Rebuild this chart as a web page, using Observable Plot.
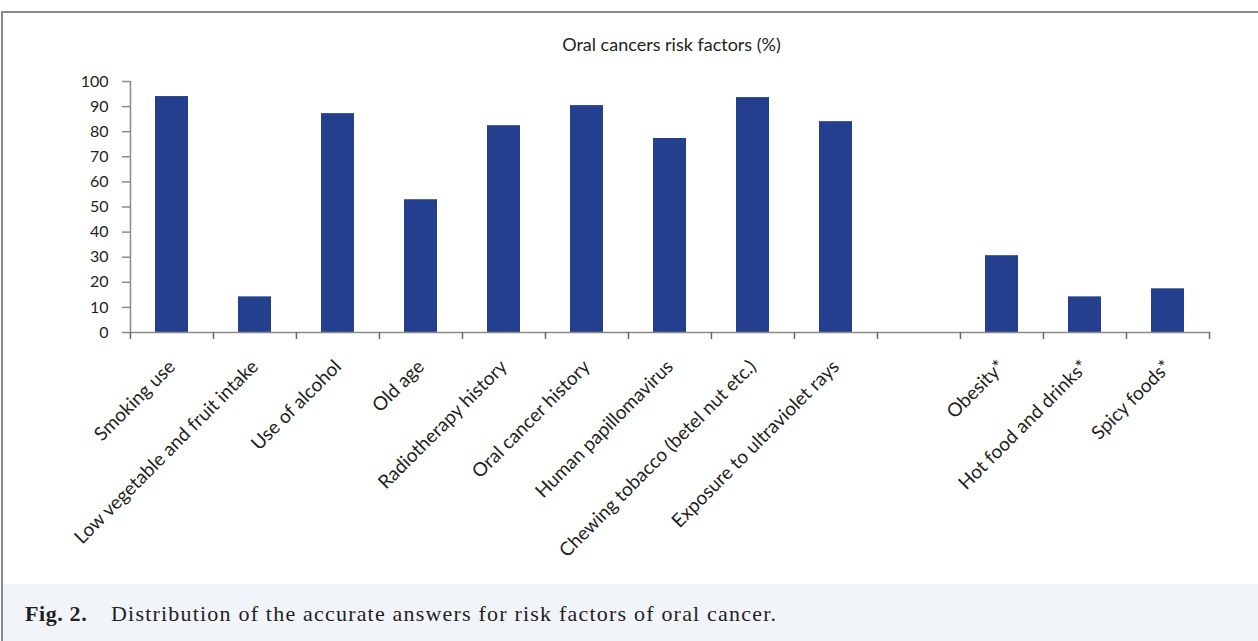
<!DOCTYPE html>
<html>
<head>
<meta charset="utf-8">
<script src="https://cdn.jsdelivr.net/npm/d3@7"></script>
<script src="https://cdn.jsdelivr.net/npm/@observablehq/plot@0.6"></script>
<style>
  html, body { margin: 0; padding: 0; background: #fff; }
  #frame { position: absolute; left: 1px; top: 11px; width: 1257px; height: 630px;
           border-top: 2px solid #8a8a8a; border-left: 2px solid #8a8a8a; box-sizing: border-box; }
  #title { position: absolute; left: 0; width: 1337px; top: 20px; text-align: center;
           font-family: Lato, sans-serif; font-size: 18px; color: #231f20; }
  #chart { position: absolute; left: -3px; top: 47px; }
  #caption { position: absolute; left: 0; top: 571px; width: 1255px; height: 57px; background: #f1f4f9;
             font-family: "Liberation Serif", serif; font-size: 22px; color: #231f20; }
  #caption span.b { font-weight: bold; position: absolute; left: 22px; top: 17px; letter-spacing: 0.6px; }
  #caption span.t { position: absolute; left: 108px; top: 17px; letter-spacing: 1.2px; }
</style>
</head>
<body>
<div id="frame">
  <div id="title">Oral cancers risk factors (%)</div>
  <div id="chart"></div>
  <div id="caption"><span class="b">Fig. 2.</span><span class="t">Distribution of the accurate answers for risk factors of oral cancer.</span></div>
</div>
<script>
const categories = [
  "Smoking use",
  "Low vegetable and fruit intake",
  "Use of alcohol",
  "Old age",
  "Radiotherapy history",
  "Oral cancer history",
  "Human papillomavirus",
  "Chewing tobacco (betel nut etc.)",
  "Exposure to ultraviolet rays",
  " ",
  "Obesity*",
  "Hot food and drinks*",
  "Spicy foods*"
];
const values = [94, 14.2, 87.2, 52.9, 82.4, 90.4, 77.3, 93.6, 84, null, 30.6, 14.2, 17.4];
const yTicks = [0, 10, 20, 30, 40, 50, 60, 70, 80, 90, 100];

const data = categories.map((c, i) => ({category: c, value: values[i]}));

const width = 1258, marginLeft = 130, marginRight = 48;
const step = (width - marginLeft - marginRight) / categories.length;

const chart = Plot.plot({
  width,
  height: 512,
  marginLeft,
  marginRight,
  marginTop: 21,
  marginBottom: 240,
  style: {fontFamily: "Lato, sans-serif", fontSize: "16px", color: "#231f20", background: "transparent", overflow: "visible"},
  x: {domain: categories, paddingInner: 0.6, paddingOuter: 0.3, label: null},
  y: {domain: [0, 100], label: null},
  marks: [
    Plot.barY(data.filter(d => d.value != null), {x: "category", y: "value", fill: "#243f8e"}),
    Plot.ruleY([0], {stroke: "#8a8a8a", strokeWidth: 1.5}),
    Plot.ruleX([categories[0]], {x: d => d, y1: 0, y2: 100, dx: -step / 2, stroke: "#8a8a8a", strokeWidth: 1.5}),
    Plot.ruleX(categories, {x: d => d, y1: 0, y2: -2.8, dx: -step / 2, stroke: "#666", strokeWidth: 1.5}),
    Plot.ruleX([categories[categories.length - 1]], {x: d => d, y1: 0, y2: -2.8, dx: step / 2, stroke: "#666", strokeWidth: 1.5}),
    Plot.axisY({ticks: yTicks, tickSize: 8, tickPadding: 14, stroke: "#8a8a8a", strokeWidth: 1.5, fontSize: 16, fill: "#231f20", label: null}),
    Plot.axisX({tickSize: 0, tickRotate: -45, tickPadding: 31, fontSize: 19, fill: "#231f20", label: null})
  ]
});
document.getElementById("chart").appendChild(chart);
</script>
</body>
</html>
